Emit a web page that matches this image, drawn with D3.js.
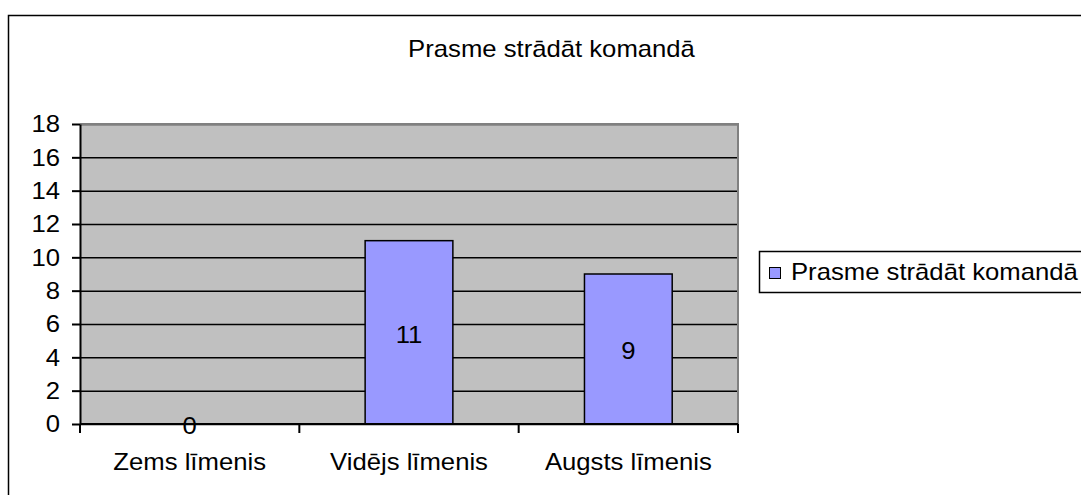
<!DOCTYPE html>
<html>
<head>
<meta charset="utf-8">
<script src="https://cdn.jsdelivr.net/npm/d3@7"></script>
<style>
  body { margin: 0; background: #fff; }
  text { font-family: "Liberation Sans", Arial, sans-serif; fill: #000; }
</style>
</head>
<body>
<script>
// data
var chartTitle = "Prasme strādāt komandā";
var seriesName = "Prasme strādāt komandā";
var categories = ["Zems līmenis", "Vidējs līmenis", "Augsts līmenis"];
var values = [0, 11, 9];
var yTicks = [0, 2, 4, 6, 8, 10, 12, 14, 16, 18];

var W = 1081, H = 495;
var plot = {left: 80, top: 124, right: 738, bottom: 424};
var fontSize = 24;
var stretch = 1.07; // the original text is a bit wider than Arial

var svg = d3.select("body").append("svg")
    .attr("width", W)
    .attr("height", H);

// place text at (px,py) with the horizontal stretch
function label(sel, px, py) {
  return sel.attr("transform", "translate(" + px + "," + py + ") scale(" + stretch + ",1)")
      .style("font-size", fontSize + "px");
}

// outer chart border (runs off the right and bottom edge)
svg.append("rect")
    .attr("x", 8.5).attr("y", 15.5)
    .attr("width", W + 20).attr("height", H + 20)
    .attr("fill", "#fff")
    .attr("stroke", "#000")
    .attr("stroke-width", 1.5);

var x = d3.scaleBand()
    .domain(categories)
    .range([plot.left, plot.right])
    .paddingInner(0.6)
    .paddingOuter(0.3);

var y = d3.scaleLinear()
    .domain([0, 18])
    .range([plot.bottom, plot.top]);

// plot background
svg.append("rect")
    .attr("x", plot.left).attr("y", plot.top)
    .attr("width", plot.right - plot.left)
    .attr("height", plot.bottom - plot.top)
    .attr("fill", "#c0c0c0");

// gridlines
svg.append("g")
    .attr("transform", "translate(" + plot.left + ",0)")
    .call(d3.axisLeft(y).tickValues(yTicks).tickSize(-(plot.right - plot.left)).tickFormat(""))
    .call(function(g){ g.select(".domain").remove(); })
    .selectAll("line")
    .attr("stroke", "#000")
    .attr("stroke-width", 1.5);

// gray top / right border of the plot area
svg.append("path")
    .attr("d", "M" + plot.left + "," + plot.top + "H" + plot.right + "V" + plot.bottom)
    .attr("fill", "none")
    .attr("stroke", "#808080")
    .attr("stroke-width", 2);

// bars
svg.selectAll(".bar").data(values)
  .enter().append("rect")
    .attr("class", "bar")
    .attr("x", function(d, i){ return x(categories[i]); })
    .attr("y", function(d){ return y(d); })
    .attr("width", x.bandwidth())
    .attr("height", function(d){ return y(0) - y(d); })
    .attr("fill", "#9999ff")
    .attr("stroke", "#000")
    .attr("stroke-width", 1.5);

// y axis
var gY = svg.append("g")
    .attr("transform", "translate(" + plot.left + ",0)")
    .call(d3.axisLeft(y).tickValues(yTicks).tickSize(8).tickFormat("").tickSizeOuter(0));
gY.select(".domain").attr("stroke", "#000").attr("stroke-width", 2);
gY.selectAll("line").attr("stroke", "#000").attr("stroke-width", 2);

svg.selectAll(".ylabel").data(yTicks)
  .enter().append("text")
    .attr("class", "ylabel")
    .attr("text-anchor", "end")
    .attr("dy", "0.35em")
    .each(function(d){ label(d3.select(this), 60, y(d)); })
    .text(function(d){ return d; });

// x axis: ticks between categories
var boundaries = d3.range(categories.length + 1).map(function(i){ return plot.left + i * (plot.right - plot.left) / categories.length; });
svg.append("line")
    .attr("x1", plot.left).attr("x2", plot.right)
    .attr("y1", plot.bottom).attr("y2", plot.bottom)
    .attr("stroke", "#000").attr("stroke-width", 2);
svg.selectAll(".xtick").data(boundaries)
  .enter().append("line")
    .attr("class", "xtick")
    .attr("x1", function(d){ return d; }).attr("x2", function(d){ return d; })
    .attr("y1", plot.bottom).attr("y2", plot.bottom + 9)
    .attr("stroke", "#000").attr("stroke-width", 2);

svg.selectAll(".xlabel").data(categories)
  .enter().append("text")
    .attr("class", "xlabel")
    .attr("text-anchor", "middle")
    .each(function(d){ label(d3.select(this), x(d) + x.bandwidth() / 2, 470); })
    .text(function(d){ return d; });

// value labels
svg.selectAll(".vlabel").data(values)
  .enter().append("text")
    .attr("class", "vlabel")
    .attr("dy", "0.35em")
    .attr("text-anchor", "middle")
    .each(function(d, i){ label(d3.select(this), x(categories[i]) + x.bandwidth() / 2, (y(d) + y(0)) / 2 + 2); })
    .text(function(d){ return d; });

// title
label(svg.append("text"), 551.5, 57)
    .attr("text-anchor", "middle")
    .text(chartTitle);

// legend
var legend = svg.append("g");
legend.append("rect")
    .attr("x", 759.5).attr("y", 251.5)
    .attr("width", 400).attr("height", 41)
    .attr("fill", "#fff")
    .attr("stroke", "#000")
    .attr("stroke-width", 1.5);
legend.append("rect")
    .attr("x", 769.5).attr("y", 267.5)
    .attr("width", 11).attr("height", 11)
    .attr("fill", "#9999ff")
    .attr("stroke", "#000")
    .attr("stroke-width", 1);
label(legend.append("text"), 791, 280)
    .text(seriesName);
</script>
</body>
</html>
